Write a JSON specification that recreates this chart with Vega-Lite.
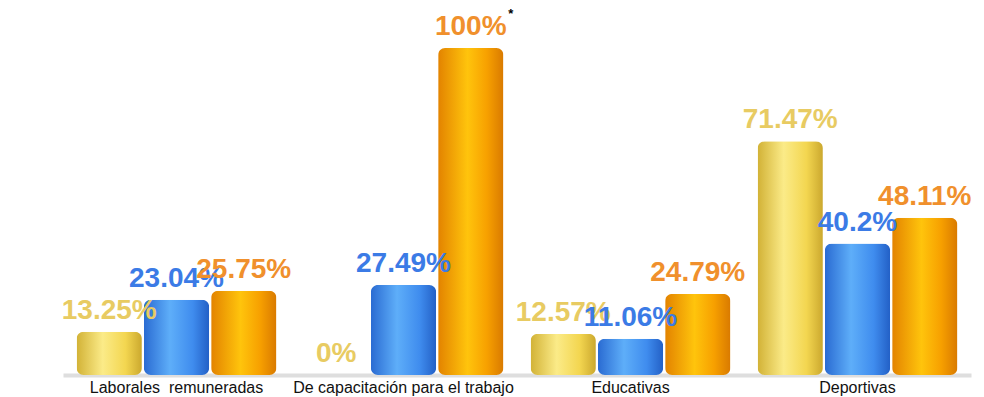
{
  "$schema": "https://vega.github.io/schema/vega-lite/v6.json",
  "width": 908,
  "height": 327,
  "autosize": {"type": "none"},
  "padding": {"left": 63, "top": 48, "right": 13, "bottom": 22},
  "background": "white",
  "config": {"view": {"stroke": null}, "font": "Liberation Sans"},
  "data": {
    "values": [
      {"categoria": "Laborales\u00a0 remuneradas", "serie": "s1", "valor": 13.25, "etiqueta": "13.25%", "nota": ""},
      {"categoria": "Laborales\u00a0 remuneradas", "serie": "s2", "valor": 23.04, "etiqueta": "23.04%", "nota": ""},
      {"categoria": "Laborales\u00a0 remuneradas", "serie": "s3", "valor": 25.75, "etiqueta": "25.75%", "nota": ""},
      {"categoria": "De capacitación para el trabajo", "serie": "s1", "valor": 0, "etiqueta": "0%", "nota": ""},
      {"categoria": "De capacitación para el trabajo", "serie": "s2", "valor": 27.49, "etiqueta": "27.49%", "nota": ""},
      {"categoria": "De capacitación para el trabajo", "serie": "s3", "valor": 100, "etiqueta": "100%", "nota": "*"},
      {"categoria": "Educativas", "serie": "s1", "valor": 12.57, "etiqueta": "12.57%", "nota": ""},
      {"categoria": "Educativas", "serie": "s2", "valor": 11.06, "etiqueta": "11.06%", "nota": ""},
      {"categoria": "Educativas", "serie": "s3", "valor": 24.79, "etiqueta": "24.79%", "nota": ""},
      {"categoria": "Deportivas", "serie": "s1", "valor": 71.47, "etiqueta": "71.47%", "nota": ""},
      {"categoria": "Deportivas", "serie": "s2", "valor": 40.2, "etiqueta": "40.2%", "nota": ""},
      {"categoria": "Deportivas", "serie": "s3", "valor": 48.11, "etiqueta": "48.11%", "nota": ""}
    ]
  },
  "encoding": {
    "x": {
      "field": "categoria",
      "type": "nominal",
      "sort": ["Laborales\u00a0 remuneradas", "De capacitación para el trabajo", "Educativas", "Deportivas"],
      "scale": {"paddingInner": 0.12, "paddingOuter": 0.06},
      "axis": {
        "title": null,
        "labelAngle": 0,
        "ticks": false,
        "domainColor": "#dedede",
        "domainWidth": 4,
        "labelFontSize": 16,
        "labelColor": "#111111",
        "labelPadding": 4,
        "labelLimit": 0,
        "labelFont": "Liberation Sans"
      }
    },
    "xOffset": {
      "field": "serie",
      "type": "nominal",
      "scale": {"domain": ["s1", "s2", "s3"], "paddingInner": 0.03}
    },
    "y": {
      "field": "valor",
      "type": "quantitative",
      "scale": {"domain": [0, 100]},
      "axis": null
    }
  },
  "layer": [
    {
      "transform": [{"filter": "datum.serie === 's1'"}],
      "mark": {
        "type": "bar",
        "cornerRadius": 7,
        "fill": {
          "gradient": "linear", "x1": 0, "x2": 1, "y1": 0, "y2": 0,
          "stops": [
            {"offset": 0, "color": "#D2B236"},
            {"offset": 0.4, "color": "#FBEB88"},
            {"offset": 0.75, "color": "#F3D650"},
            {"offset": 1, "color": "#CBA82E"}
          ]
        }
      }
    },
    {
      "transform": [{"filter": "datum.serie === 's2'"}],
      "mark": {
        "type": "bar",
        "cornerRadius": 7,
        "fill": {
          "gradient": "linear", "x1": 0, "x2": 1, "y1": 0, "y2": 0,
          "stops": [
            {"offset": 0, "color": "#2A6BD2"},
            {"offset": 0.4, "color": "#5EAEF9"},
            {"offset": 0.75, "color": "#3F8CEE"},
            {"offset": 1, "color": "#2360C6"}
          ]
        }
      }
    },
    {
      "transform": [{"filter": "datum.serie === 's3'"}],
      "mark": {
        "type": "bar",
        "cornerRadius": 7,
        "fill": {
          "gradient": "linear", "x1": 0, "x2": 1, "y1": 0, "y2": 0,
          "stops": [
            {"offset": 0, "color": "#E38300"},
            {"offset": 0.45, "color": "#FFC40C"},
            {"offset": 0.75, "color": "#F7A000"},
            {"offset": 1, "color": "#D97A00"}
          ]
        }
      }
    },
    {
      "mark": {"type": "text", "baseline": "alphabetic", "dy": -13, "fontSize": 28, "fontWeight": "bold", "font": "Liberation Sans"},
      "encoding": {
        "text": {"field": "etiqueta"},
        "color": {
          "field": "serie",
          "type": "nominal",
          "scale": {"domain": ["s1", "s2", "s3"], "range": ["#E8CB62", "#3B7BE6", "#F0902C"]},
          "legend": null
        }
      }
    },
    {
      "mark": {"type": "text", "baseline": "alphabetic", "dx": 40, "dy": -30, "fontSize": 13, "fontWeight": "bold", "color": "#000000"},
      "encoding": {"text": {"field": "nota"}}
    }
  ]
}
